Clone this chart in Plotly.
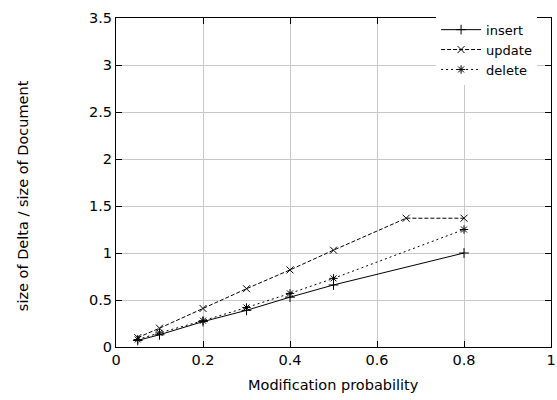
import plotly.graph_objects as go

insert_x = [0.05, 0.1, 0.2, 0.3, 0.4, 0.5, 0.8]
insert_y = [0.07, 0.13, 0.27, 0.39, 0.53, 0.66, 1.00]
update_x = [0.05, 0.1, 0.2, 0.3, 0.4, 0.5, 0.667, 0.8]
update_y = [0.10, 0.20, 0.41, 0.62, 0.82, 1.03, 1.37, 1.37]
delete_x = [0.05, 0.1, 0.2, 0.3, 0.4, 0.5, 0.8]
delete_y = [0.08, 0.15, 0.28, 0.42, 0.57, 0.73, 1.25]

x_ticks = [0, 0.2, 0.4, 0.6, 0.8, 1]
x_labels = ["0", "0.2", "0.4", "0.6", "0.8", "1"]
y_ticks = [0, 0.5, 1, 1.5, 2, 2.5, 3, 3.5]
y_labels = ["0", "0.5", "1", "1.5", "2", "2.5", "3", "3.5"]

FONT = "DejaVu Sans, Liberation Sans, Arial, sans-serif"
FS = 14.5

fig = go.Figure()
fig.add_trace(go.Scatter(x=insert_x, y=insert_y, name="insert", mode="lines+markers",
                         line=dict(color="black", width=1, dash="solid"),
                         marker=dict(symbol="cross-thin", size=7, line=dict(color="black", width=1))))
fig.add_trace(go.Scatter(x=update_x, y=update_y, name="update", mode="lines+markers",
                         line=dict(color="black", width=1, dash="4px,2px"),
                         marker=dict(symbol="x-thin", size=7, line=dict(color="black", width=1))))
fig.add_trace(go.Scatter(x=delete_x, y=delete_y, name="delete", mode="lines+markers",
                         line=dict(color="black", width=1, dash="2px,3px"),
                         marker=dict(symbol="asterisk", size=7, line=dict(color="black", width=1))))

axis_common = dict(showgrid=True, gridcolor="#c8c8c8", gridwidth=1, zeroline=False,
                   showline=True, linecolor="black", linewidth=1, mirror="ticks",
                   ticks="inside", ticklen=6, tickcolor="black",
                   ticklabeloverflow="allow", automargin=False,
                   tickfont=dict(family=FONT, size=FS, color="black"))

fig.update_xaxes(range=[0, 1], tickvals=x_ticks, ticktext=x_labels, **axis_common)
fig.update_yaxes(range=[0, 3.5], tickvals=y_ticks, ticktext=y_labels, **axis_common)

fig.add_annotation(text="Modification probability", xref="paper", yref="paper",
                   x=0.5, y=-0.1155, xanchor="center", yanchor="middle", showarrow=False,
                   font=dict(family=FONT, size=FS, color="black"))
fig.add_annotation(text="size of Delta / size of Document", xref="paper", yref="paper",
                   x=-0.215, y=0.46, xanchor="center", yanchor="middle", textangle=-90,
                   showarrow=False, font=dict(family=FONT, size=FS, color="black"))

fig.update_layout(
    width=557, height=400,
    margin=dict(l=116, r=6, t=18, b=53, autoexpand=False),
    paper_bgcolor="white", plot_bgcolor="white",
    font=dict(family=FONT, size=FS, color="black"),
    showlegend=True,
    legend=dict(x=0.968, y=1.01, xanchor="right", yanchor="top",
                bgcolor="white", borderwidth=0, tracegroupgap=0,
                font=dict(family=FONT, size=13, color="black"),
                itemwidth=40),
)

fig.write_html("out.html",
               config={"displayModeBar": False},
               post_script="document.body.style.margin='0';document.body.style.overflow='hidden';")
